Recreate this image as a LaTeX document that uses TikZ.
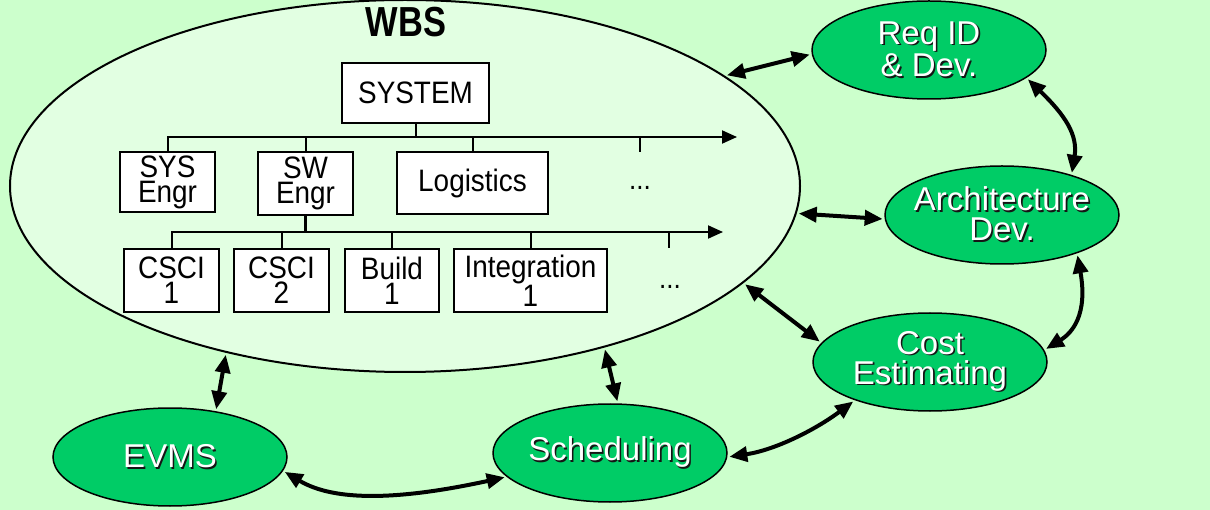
\documentclass[tikz,border=0pt]{standalone}
\usepackage{fontspec}
\setmainfont{Liberation Sans}
\newfontfamily\titlefont[FakeStretch=0.82]{Liberation Sans}
\newfontfamily\boxfont[FakeStretch=0.9]{Liberation Sans}
\usetikzlibrary{shapes.geometric,arrows.meta}

\definecolor{pagegreen}{HTML}{CCFFCC}
\definecolor{wbsfill}{HTML}{E2FFE2}
\definecolor{nodegreen}{HTML}{00CC66}
\definecolor{shade}{HTML}{151515}

% white lettering with a dark drop shadow
\newcommand\shadowed[1]{\makebox[0pt][l]{\kern1.6pt\raisebox{-1.6pt}{\textcolor{shade}{#1}}}#1}

\tikzset{
  wbsbox/.style={draw, fill=white, line width=1.6pt, inner sep=0pt, align=center,
                 font=\boxfont\fontsize{31}{25}\selectfont},
  bus/.style={line width=2pt, -{Triangle[length=15pt,width=13pt]}},
  drop/.style={line width=2pt},
  more/.style={font=\boxfont\fontsize{29}{25}\selectfont, inner sep=0pt},
  activity/.style={ellipse, draw, fill=nodegreen, line width=1.5pt,
                   minimum width=234pt, minimum height=98pt, inner sep=0pt},
  acttext/.style={text=white, align=center, inner sep=0pt,
                  font=\fontsize{33}{30}\selectfont},
  link/.style={line width=4pt,
               {Triangle[length=18pt,width=15pt]}-{Triangle[length=18pt,width=15pt]},
               shorten <=2pt, shorten >=2pt},
}

\begin{document}
\begin{tikzpicture}[x=1pt,y=-1pt]
\useasboundingbox (0,0) rectangle (1210,510);
\fill[pagegreen] (0,0) rectangle (1210,510);

% work breakdown structure
\node[ellipse, draw, fill=wbsfill, line width=2pt, minimum width=790pt,
      minimum height=372pt, inner sep=0pt] (wbs) at (405,186) {};
\node[font=\titlefont\bfseries\fontsize{42}{42}\selectfont] (title) at (406,22) {WBS};

\node[wbsbox, minimum width=147pt, minimum height=60pt] (system) at (415.5,93) {SYSTEM};

\node[wbsbox, minimum width=95pt, minimum height=60pt] (syseng) at (167.5,182) {SYS\\Engr};
\node[wbsbox, minimum width=95pt, minimum height=63pt] (sweng) at (305.5,183.5) {SW\\Engr};
\node[wbsbox, minimum width=151pt, minimum height=62pt] (logis) at (472.5,183) {Logistics};
\node[more] (moreA) at (640,188) {...};

\node[wbsbox, minimum width=95pt, minimum height=63pt] (cscia) at (171.5,280.5) {CSCI\\1};
\node[wbsbox, minimum width=95pt, minimum height=63pt] (cscib) at (281.5,280.5) {CSCI\\2};
\node[wbsbox, minimum width=94pt, minimum height=63pt] (build) at (392,280.5) {Build\\1};
\node[wbsbox, minimum width=153pt, minimum height=63pt] (integ) at (530.5,280.5) {Integration\\1};
\node[more] (moreB) at (670,287) {...};

% first level bus
\coordinate (busAend) at (737,137);
\coordinate (tickA) at (640,152);
\draw[bus] (syseng.north) |- (busAend);
\draw[drop] (system.south) -- (system.south |- busAend);
\draw[drop] (sweng.north) -- (sweng.north |- busAend);
\draw[drop] (logis.north) -- (logis.north |- busAend);
\draw[drop] (tickA |- busAend) -- (tickA);

% second level bus
\coordinate (busBend) at (723,232);
\coordinate (tickB) at (669,248);
\draw[bus] (cscia.north) |- (busBend);
\draw[line width=3.5pt] (sweng.south) -- (sweng.south |- busBend);
\draw[drop] (cscib.north) -- (cscib.north |- busBend);
\draw[drop] (build.north) -- (build.north |- busBend);
\draw[drop] (integ.north) -- (integ.north |- busBend);
\draw[drop] (tickB |- busBend) -- (tickB);

% related activities
\node[activity, label={[acttext]center:{\shadowed{Req ID}\\\shadowed{\& Dev.}}}] (reqid) at (929,50) {};
\node[activity, label={[acttext]center:{\shadowed{Architecture}\\\shadowed{Dev.}}}] (arch) at (1002,215) {};
\node[activity, label={[acttext]center:{\shadowed{Cost}\\\shadowed{Estimating}}}] (cost) at (930,362) {};
\node[activity, label={[acttext]center:{\shadowed{Scheduling}}}] (sched) at (610,453) {};
\node[activity, label={[acttext]center:{\shadowed{EVMS}}}] (evms) at (170,457) {};

% two-way links
\draw[link] (wbs.19) -- (reqid.182);
\draw[link] (reqid.344) .. controls (1065,115) and (1078,135) .. (arch.30);
\draw[link] (wbs.356) -- (arch.182);
\draw[link] (arch.333) .. controls (1088,315) and (1072,333) .. (cost.6);
\draw[link] (wbs.344) -- (cost.170);
\draw[link] (cost.207) .. controls (815,430) and (775,450) .. (sched.358);
\draw[link] (wbs.321) -- (sched.81);
\draw[link] (wbs.223) -- (evms.45);
\draw[link] (evms.353) .. controls (335,502) and (400,500) .. (sched.193);
\end{tikzpicture}
\end{document}
